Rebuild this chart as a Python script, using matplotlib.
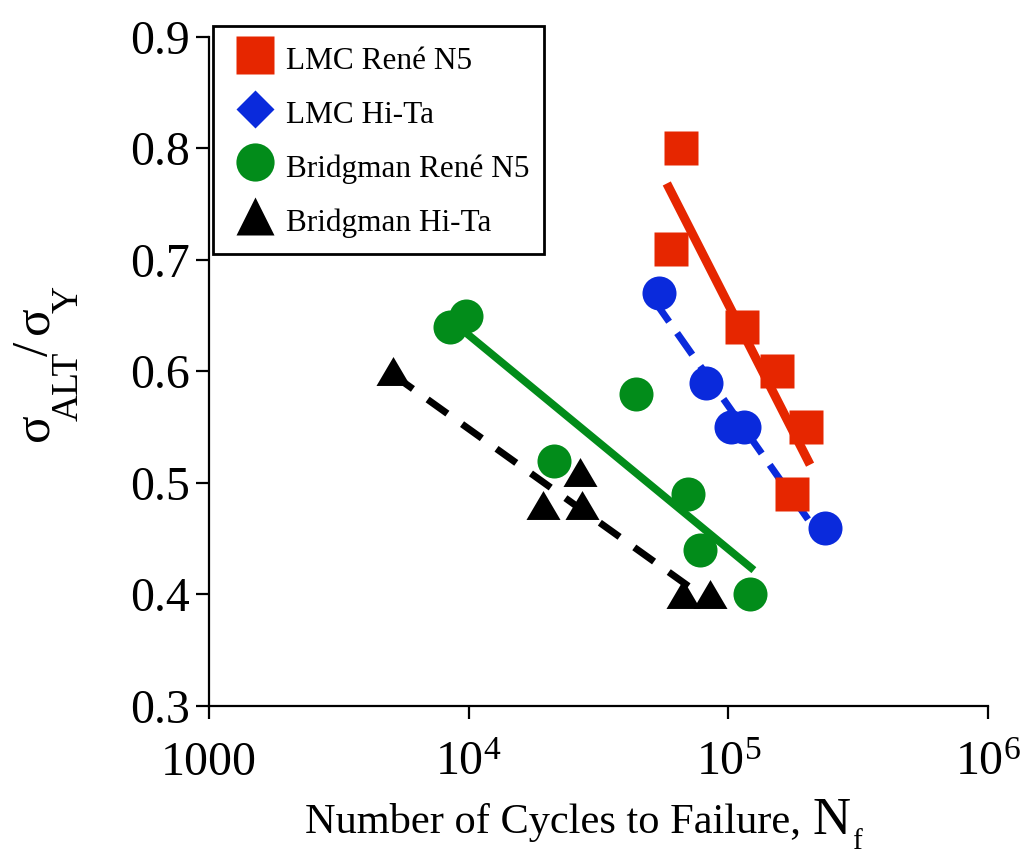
import matplotlib
matplotlib.use("Agg")
import matplotlib.pyplot as plt
from matplotlib.lines import Line2D
from matplotlib.ticker import NullLocator, FixedLocator

plt.rcParams['font.family'] = ['Liberation Serif', 'DejaVu Serif']
plt.rcParams['mathtext.fontset'] = 'custom'
plt.rcParams['mathtext.rm'] = 'Liberation Serif'
plt.rcParams['mathtext.it'] = 'Liberation Serif:italic'
plt.rcParams['mathtext.bf'] = 'Liberation Serif:bold'

# ---- data ----
lmc_rene_x = [65700, 60100, 112700, 153800, 199000, 175900]
lmc_rene_y = [0.80, 0.71, 0.64, 0.60, 0.55, 0.49]
lmc_hita_x = [54100, 82000, 102400, 114800, 235500]
lmc_hita_y = [0.67, 0.59, 0.55, 0.55, 0.46]
bridg_rene_x = [8470, 9780, 44000, 21300, 69800, 77800, 121000]
bridg_rene_y = [0.64, 0.65, 0.58, 0.52, 0.49, 0.44, 0.40]
bridg_hita_x = [5120, 26800, 19300, 27300, 66800, 84900]
bridg_hita_y = [0.60, 0.51, 0.48, 0.48, 0.40, 0.40]

# fit lines (end points)
fit_lmc_rene_x = [59000, 202700]
fit_lmc_rene_y = [0.765, 0.52]
fit_lmc_hita_x = [51700, 225500]
fit_lmc_hita_y = [0.664, 0.452]
fit_bridg_rene_x = [9780, 122200]
fit_bridg_rene_y = [0.6345, 0.424]
fit_bridg_hita_x = [5120, 80000]
fit_bridg_hita_y = [0.597, 0.398]

labels = ['LMC René N5', 'LMC Hi-Ta', 'Bridgman René N5', 'Bridgman Hi-Ta']
xticks = [1000, 1e4, 1e5, 1e6]
xticklabels = ['1000', r'$\mathregular{10^4}$', r'$\mathregular{10^5}$', r'$\mathregular{10^6}$']
yticks = [0.3, 0.4, 0.5, 0.6, 0.7, 0.8, 0.9]
xlabel_main = 'Number of Cycles to Failure,'
xlabel_sym, xlabel_sub = 'N', 'f'
ylabel_parts = ['σ', 'ALT', '/', 'σ', 'Y']

RED = '#E62600'
BLUE = '#0A2ADC'
GREEN = '#028C1A'
BLACK = '#000000'

W, H = 1025, 858
fig = plt.figure(figsize=(W / 100, H / 100), dpi=100)
ax = fig.add_axes([0.2039, 0.1772, 0.76, 0.7797])

tri = [(-1, -0.85), (1, -0.85), (0, 0.85)]

# fit lines
ax.plot(fit_lmc_hita_x, fit_lmc_hita_y, color=BLUE, lw=5, dashes=(3.8, 2.0), zorder=2)
ax.plot(fit_lmc_rene_x, fit_lmc_rene_y, color=RED, lw=6.5, zorder=2)
ax.plot(fit_bridg_rene_x, fit_bridg_rene_y, color=GREEN, lw=5.5, zorder=2)
ax.plot(fit_bridg_hita_x, fit_bridg_hita_y, color=BLACK, lw=5, dashes=(3.5, 2.6), zorder=2)

# markers
ax.plot(lmc_hita_x, lmc_hita_y, 'o', color=BLUE, ms=24.5, mec='none', zorder=3)
ax.plot(lmc_rene_x, lmc_rene_y, 's', color=RED, ms=25, mec='none', zorder=4)
ax.plot(bridg_rene_x, bridg_rene_y, 'o', color=GREEN, ms=24.5, mec='none', zorder=3)
ax.plot(bridg_hita_x, bridg_hita_y, marker=tri, ls='none', color=BLACK, ms=24.5, mec='none', zorder=4)

ax.set_xscale('log')
ax.set_xlim(1000, 1e6)
ax.set_ylim(0.3, 0.9)
ax.xaxis.set_major_locator(FixedLocator(xticks))
ax.xaxis.set_minor_locator(NullLocator())
ax.set_xticklabels(xticklabels)
ax.set_yticks(yticks)
ax.set_yticklabels(['%.1f' % v for v in yticks])

for s in ['top', 'right']:
    ax.spines[s].set_visible(False)
for s in ['left', 'bottom']:
    ax.spines[s].set_linewidth(1.6)

ax.tick_params(axis='both', direction='out', length=9.5, width=1.6, labelsize=34.5)
ax.tick_params(axis='y', pad=4)
ax.tick_params(axis='x', pad=16)

# x label composed of pieces (larger N, low subscript f)
fig.text(305 / W, 1 - 833 / H, xlabel_main, fontsize=30.5, ha='left', va='baseline')
fig.text(812 / W, 1 - 834 / H, xlabel_sym, fontsize=38, ha='left', va='baseline')
fig.text(852 / W, 1 - 849 / H, xlabel_sub, fontsize=21, ha='left', va='baseline')

# y label composed of pieces, rotated
y_pieces = [
    (ylabel_parts[0], 47, 441, 37),
    (ylabel_parts[1], 78, 421, 27),
    (ylabel_parts[2], 47, 356, 37),
    (ylabel_parts[3], 47, 334, 37),
    (ylabel_parts[4], 78, 313, 27),
]
for txt, bx, sy, fs in y_pieces:
    fig.text(bx / W, 1 - sy / H, txt, fontsize=fs, rotation=90,
             rotation_mode='anchor', ha='left', va='baseline')

handles = [
    Line2D([], [], ls='none', marker='s', color=RED, ms=27.5, mec='none'),
    Line2D([], [], ls='none', marker='D', color=BLUE, ms=19.5, mec='none'),
    Line2D([], [], ls='none', marker='o', color=GREEN, ms=27.5, mec='none'),
    Line2D([], [], ls='none', marker='^', color=BLACK, ms=27.5, mec='none'),
]
leg = ax.legend(handles, labels, loc='upper left', bbox_to_anchor=(0.005, 1.0164),
                bbox_transform=ax.transAxes, fontsize=22.5, frameon=True, fancybox=False,
                framealpha=1, edgecolor='black', borderpad=0.45, handlelength=1.8,
                handleheight=1.5, handletextpad=0.1, labelspacing=0.5, borderaxespad=0.0)
leg.get_frame().set_linewidth(2.0)

fig.savefig('out.png', dpi=100)
